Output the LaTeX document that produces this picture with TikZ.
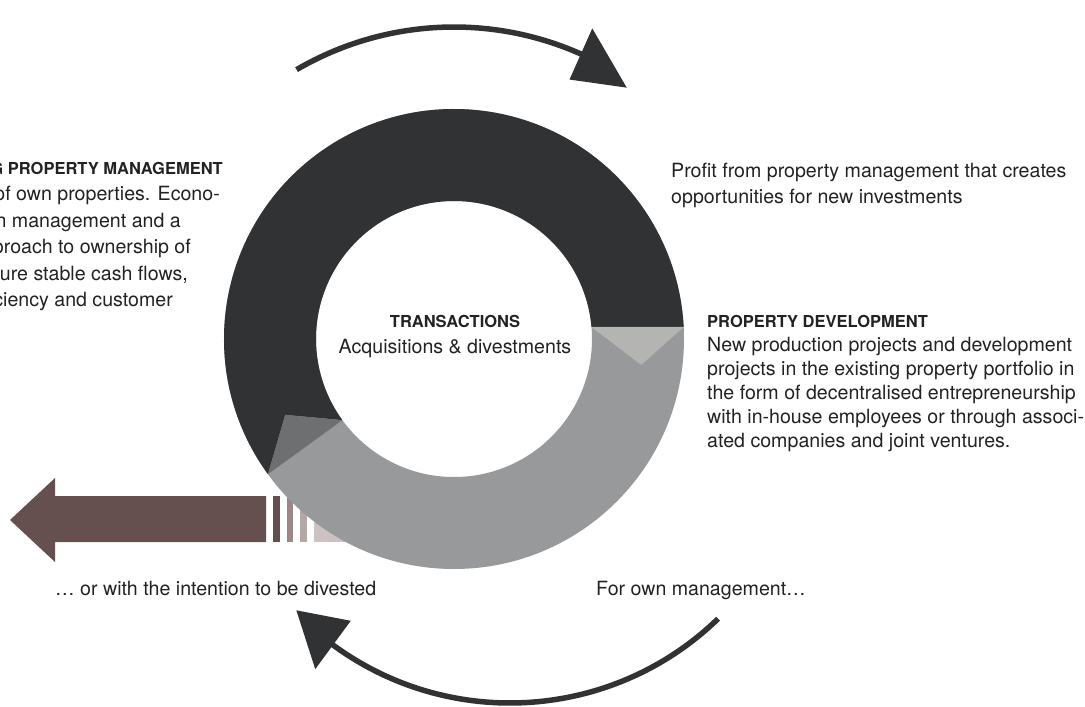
\documentclass[tikz,border=0pt]{standalone}
\usepackage{fontspec}
\setmainfont{TeX Gyre Heros}
\definecolor{ringdark}{HTML}{313234}
\definecolor{ringgray}{HTML}{98999B}
\definecolor{tiplight}{HTML}{B4B5B3}
\definecolor{tipmid}{HTML}{6E6F71}
\definecolor{brown}{HTML}{654F4F}
\definecolor{stripeA}{HTML}{654E4F}
\definecolor{stripeB}{HTML}{9A8786}
\definecolor{stripeC}{HTML}{B4A7A6}
\definecolor{stripeD}{HTML}{CCC2C2}
\definecolor{txt}{HTML}{222222}
\begin{document}
\begin{tikzpicture}[x=1pt,y=-1pt,
  body/.style={inner sep=0pt,text=txt,font=\fontsize{19.6}{24}\selectfont},
  head/.style={inner sep=0pt,text=txt,font=\fontsize{16.5}{20}\selectfont\bfseries},
  flow/.style={draw=ringdark,line width=5.5pt}]
\useasboundingbox (0,0) rectangle (1085,707);
% brown arrow (behind ring)
\fill[brown] (10,520) -- (55,478) -- (55,496) -- (266,496) -- (266,542) -- (55,542) -- (55,562) -- cycle;
\fill[stripeA] (273,496) rectangle (280,542);
\fill[stripeB] (287,496) rectangle (293,542);
\fill[stripeC] (300,496) rectangle (307,542);
\fill[stripeD] (314,496) rectangle (400,542);
% ring
\coordinate (C) at (454,339);
\begin{scope}[shift={(454,339)}]
\fill[ringgray,even odd rule] (0,0) circle (230) (0,0) circle (138);
\fill[ringdark] (144:230) arc[start angle=144,end angle=357,radius=230] -- (355:138)
   arc[start angle=355,end angle=144,radius=138] -- (155.8:185) -- cycle;
\fill[tiplight] (355:138) -- (357:230) -- (7.9:189) -- cycle;
\fill[tipmid] (144:138) -- (144:230) -- (155.8:185) -- cycle;
% top flow arrow
\coordinate (ts) at (239.7:312);
\draw[flow] (ts) arc[start angle=239.7,end angle=295,radius=312];
\fill[ringdark] (294:284) -- (294:340) -- (304.5:305) -- cycle;
\end{scope}
% bottom flow arrow
\begin{scope}[shift={(510,404)}]
\coordinate (bs) at (45.9:299);
\draw[flow] (bs) arc[start angle=45.9,end angle=127.5,radius=299];
\fill[ringdark] (126.3:269) -- (126.3:329) -- (136:297) -- cycle;
\end{scope}
% centre text
\node[head,anchor=base] (tr) at (455,327) {TRANSACTIONS};
\node[body,anchor=base] (acq) at (455,353) {Acquisitions \& divestments};
% top right
\node[body,anchor=base west] (pf1) at (671,177) {Profit from property management that creates};
\node[body,anchor=base west] (pf2) at (671,203) {opportunities for new investments};
% right block
\node[head,anchor=base west] (pd) at (707,327) {PROPERTY DEVELOPMENT};
\node[body,anchor=base west] (pd1) at (707,351) {New production projects and development};
\node[body,anchor=base west] (pd2) at (707,375) {projects in the existing property portfolio in};
\node[body,anchor=base west] (pd3) at (707,399) {the form of decentralised entrepreneurship};
\node[body,anchor=base west] (pd4) at (707,423) {with in-house employees or through associ-};
\node[body,anchor=base west] (pd5) at (707,447) {ated companies and joint ventures.};
% left block (cut by the left edge)
\node[head,anchor=base east] (lm) at (223,174) {G PROPERTY MANAGEMENT};
\node[body,anchor=base east] (lm1) at (220,200.5) {of own properties. Econo-};
\node[body,anchor=base east] (lm2) at (181,227) {n management and a};
\node[body,anchor=base east] (lm3) at (191,253.5) {proach to ownership of};
\node[body,anchor=base east] (lm4) at (188,280) {cure stable cash flows,};
\node[body,anchor=base east] (lm5) at (173,306.5) {ciency and customer};
% bottom texts
\node[body,anchor=base west] (dv) at (55,595) {… or with the intention to be divested};
\node[body,anchor=base west] (om) at (596,595) {For own management…};
\end{tikzpicture}
\end{document}
